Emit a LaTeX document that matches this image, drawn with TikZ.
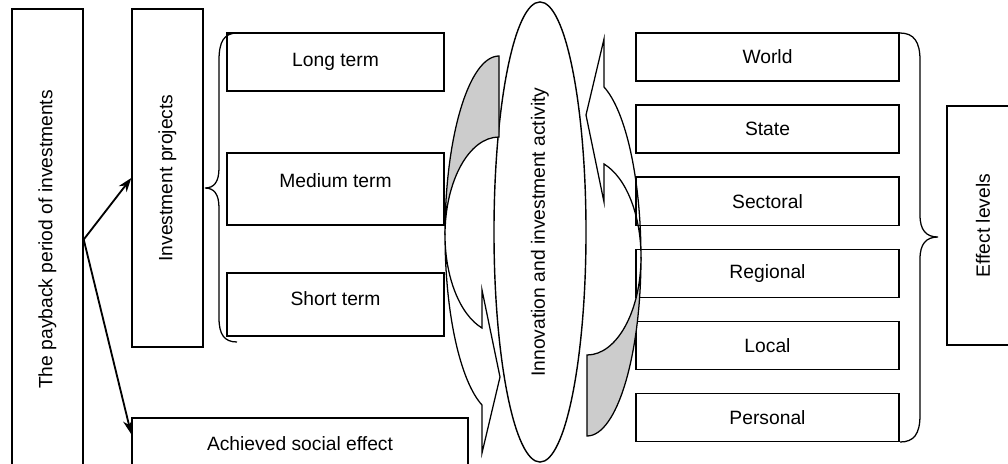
\documentclass[tikz,border=0pt]{standalone}
\usepackage{fontspec}
\setmainfont{Liberation Sans}
\usepackage{tikz}
\usetikzlibrary{shapes.geometric, arrows.meta}

\tikzset{
    box/.style={draw, line width=1pt, inner sep=0pt, font=\fontsize{13.7}{16}\selectfont},
    term/.style={box, minimum width=5.425cm},
    level/.style={box, minimum width=6.575cm, minimum height=1.2cm},
    brace/.style={line width=0.9pt},
    bent/.style={line width=0.9pt, line join=miter},
    link/.style={->, line width=1.3pt},
}

\begin{document}
\begin{tikzpicture}[>={Stealth[length=10pt, width=7pt]}, x=0.025cm, y=-0.025cm]
    \useasboundingbox (0,0) rectangle (1008,463);
    % left column
    \node[box, rotate=90, minimum width=11.525cm, minimum height=1.775cm] (payback) at (47.5,239.5) {The payback period of investments};
    \node[box, rotate=90, minimum width=8.45cm, minimum height=1.775cm] (projects) at (167.5,178) {Investment projects};
    \node[box, minimum width=8.4cm, minimum height=1.3cm] (achieved) at (300,444) {Achieved social effect};
    \draw[link] (payback.south) -- (projects.north);
    \draw[link] (payback.south) -- ([yshift=-12pt]achieved.north west);
    % terms
    \node[term, minimum height=1.45cm] (long) at (335.5,62) {Long term};
    \node[term, minimum height=1.8cm, text depth=12pt] (medium) at (335.5,189) {Medium term};
    \node[term, minimum height=1.575cm, text depth=9pt] (short) at (335.5,304.5) {Short term};
    \draw[brace] (237,33) .. controls (224,33) and (219,42) .. (219,60) -- (219,168)
        .. controls (219,182) and (214,188) .. (205,188)
        .. controls (214,188) and (219,194) .. (219,208) -- (219,318)
        .. controls (219,334) and (224,342) .. (237,342);
    % centre
    \node[box, ellipse, rotate=90, minimum width=11.5cm, minimum height=2.3cm] (activity) at (540,232) {Innovation and investment activity};
    % levels
    \foreach \name/\txt [count=\i from 0] in {world/World, state/State, sectoral/Sectoral, regional/Regional, local/Local, personal/Personal}
        \node[level] (\name) at (767.5,{57+72.1*\i}) {\txt};
    \draw[brace] (900,33) .. controls (914,33) and (920,42) .. (920,60) -- (920,215)
        .. controls (920,230) and (926,237) .. (938,237)
        .. controls (926,237) and (920,244) .. (920,259) -- (920,415)
        .. controls (920,434) and (914,442) .. (900,442);
    \node[box, rotate=90, minimum width=5.975cm, minimum height=1.8cm] (effects) at (983,225.5) {Effect levels};
    % bent arrows
    \foreach \cx/\cy/\ang in {499/235/0, 587/257/180}{
        \begin{scope}[shift={(\cx,\cy)}, rotate=\ang, bent]
            \filldraw[fill=gray!40] (0,-179) arc[start angle=270, end angle=180, x radius=54, y radius=179]
                arc[start angle=180, end angle=270, x radius=54, y radius=98] -- cycle;
            \draw (-54,0) arc[start angle=180, end angle=108.4, x radius=54, y radius=98]
                -- (-17,55) -- (1,142) -- (-17,218) -- (-17,170)
                arc[start angle=108.4, end angle=180, x radius=54, y radius=179] -- cycle;
        \end{scope}
    }
\end{tikzpicture}
\end{document}
